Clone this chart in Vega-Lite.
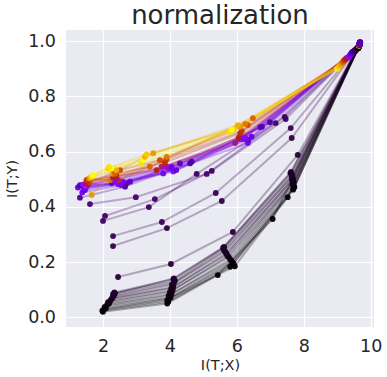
{
"$schema": "https://vega.github.io/schema/vega-lite/v6.json",
"width": 308, "height": 297,
"autosize": "none",
"padding": {"left": 66, "top": 30, "right": 13, "bottom": 50},
"background": "white",
"title": {"text": "normalization", "fontSize": 26, "font": "DejaVu Sans", "fontWeight": "normal", "color": "#262626", "offset": 1, "anchor": "middle"},
"config": {
  "view": {"fill": "#EAEAF2", "stroke": null},
  "axis": {"domain": false, "ticks": false, "grid": true, "gridColor": "white", "gridWidth": 1.2, "labelFont": "DejaVu Sans", "labelFontSize": 17.5, "labelColor": "#262626", "titleFont": "DejaVu Sans", "titleFontSize": 14.5, "titleFontWeight": "normal", "titleColor": "#262626"}
},
"data": {"values": [
{"e":0,"c":0,"l":1,"x":9.66,"y":0.986},{"e":0,"c":0,"l":2,"x":9.55,"y":0.965},{"e":0,"c":0,"l":3,"x":7.07,"y":0.356},{"e":0,"c":0,"l":4,"x":5.43,"y":0.153},{"e":0,"c":0,"l":5,"x":3.92,"y":0.050},{"e":0,"c":0,"l":6,"x":2.00,"y":0.020},
{"e":1,"c":0.002,"l":1,"x":9.67,"y":0.987},{"e":1,"c":0.002,"l":2,"x":9.60,"y":0.972},{"e":1,"c":0.002,"l":3,"x":7.52,"y":0.435},{"e":1,"c":0.002,"l":4,"x":5.80,"y":0.183},{"e":1,"c":0.002,"l":5,"x":3.95,"y":0.056},{"e":1,"c":0.002,"l":6,"x":1.98,"y":0.024},
{"e":2,"c":0.004,"l":1,"x":9.66,"y":0.988},{"e":2,"c":0.004,"l":2,"x":9.62,"y":0.975},{"e":2,"c":0.004,"l":3,"x":7.68,"y":0.462},{"e":2,"c":0.004,"l":4,"x":5.94,"y":0.185},{"e":2,"c":0.004,"l":5,"x":3.92,"y":0.062},{"e":2,"c":0.004,"l":6,"x":2.02,"y":0.028},
{"e":3,"c":0.006,"l":1,"x":9.67,"y":0.987},{"e":3,"c":0.006,"l":2,"x":9.63,"y":0.976},{"e":3,"c":0.006,"l":3,"x":7.70,"y":0.468},{"e":3,"c":0.006,"l":4,"x":5.90,"y":0.195},{"e":3,"c":0.006,"l":5,"x":3.98,"y":0.068},{"e":3,"c":0.006,"l":6,"x":2.08,"y":0.032},
{"e":4,"c":0.008,"l":1,"x":9.66,"y":0.987},{"e":4,"c":0.008,"l":2,"x":9.62,"y":0.974},{"e":4,"c":0.008,"l":3,"x":7.72,"y":0.472},{"e":4,"c":0.008,"l":4,"x":5.86,"y":0.200},{"e":4,"c":0.008,"l":5,"x":4.02,"y":0.072},{"e":4,"c":0.008,"l":6,"x":2.05,"y":0.038},
{"e":5,"c":0.010,"l":1,"x":9.67,"y":0.988},{"e":5,"c":0.010,"l":2,"x":9.64,"y":0.977},{"e":5,"c":0.010,"l":3,"x":7.69,"y":0.478},{"e":5,"c":0.010,"l":4,"x":5.84,"y":0.205},{"e":5,"c":0.010,"l":5,"x":3.96,"y":0.078},{"e":5,"c":0.010,"l":6,"x":2.12,"y":0.045},
{"e":6,"c":0.012,"l":1,"x":9.66,"y":0.987},{"e":6,"c":0.012,"l":2,"x":9.63,"y":0.975},{"e":6,"c":0.012,"l":3,"x":7.66,"y":0.482},{"e":6,"c":0.012,"l":4,"x":5.80,"y":0.210},{"e":6,"c":0.012,"l":5,"x":4.05,"y":0.085},{"e":6,"c":0.012,"l":6,"x":2.18,"y":0.050},
{"e":7,"c":0.014,"l":1,"x":9.67,"y":0.988},{"e":7,"c":0.014,"l":2,"x":9.62,"y":0.976},{"e":7,"c":0.014,"l":3,"x":7.70,"y":0.488},{"e":7,"c":0.014,"l":4,"x":5.76,"y":0.218},{"e":7,"c":0.014,"l":5,"x":4.00,"y":0.092},{"e":7,"c":0.014,"l":6,"x":2.15,"y":0.055},
{"e":8,"c":0.016,"l":1,"x":9.67,"y":0.987},{"e":8,"c":0.016,"l":2,"x":9.64,"y":0.978},{"e":8,"c":0.016,"l":3,"x":7.67,"y":0.492},{"e":8,"c":0.016,"l":4,"x":5.72,"y":0.222},{"e":8,"c":0.016,"l":5,"x":4.08,"y":0.098},{"e":8,"c":0.016,"l":6,"x":2.22,"y":0.060},
{"e":9,"c":0.018,"l":1,"x":9.67,"y":0.988},{"e":9,"c":0.018,"l":2,"x":9.63,"y":0.976},{"e":9,"c":0.018,"l":3,"x":7.65,"y":0.498},{"e":9,"c":0.018,"l":4,"x":5.70,"y":0.228},{"e":9,"c":0.018,"l":5,"x":4.04,"y":0.105},{"e":9,"c":0.018,"l":6,"x":2.25,"y":0.066},
{"e":10,"c":0.020,"l":1,"x":9.66,"y":0.988},{"e":10,"c":0.020,"l":2,"x":9.62,"y":0.977},{"e":10,"c":0.020,"l":3,"x":7.68,"y":0.502},{"e":10,"c":0.020,"l":4,"x":5.68,"y":0.232},{"e":10,"c":0.020,"l":5,"x":4.10,"y":0.110},{"e":10,"c":0.020,"l":6,"x":2.28,"y":0.070},
{"e":11,"c":0.022,"l":1,"x":9.67,"y":0.987},{"e":11,"c":0.022,"l":2,"x":9.63,"y":0.975},{"e":11,"c":0.022,"l":3,"x":7.64,"y":0.508},{"e":11,"c":0.022,"l":4,"x":5.65,"y":0.238},{"e":11,"c":0.022,"l":5,"x":4.06,"y":0.118},{"e":11,"c":0.022,"l":6,"x":2.30,"y":0.075},
{"e":12,"c":0.024,"l":1,"x":9.67,"y":0.988},{"e":12,"c":0.024,"l":2,"x":9.64,"y":0.978},{"e":12,"c":0.024,"l":3,"x":7.66,"y":0.512},{"e":12,"c":0.024,"l":4,"x":5.62,"y":0.242},{"e":12,"c":0.024,"l":5,"x":4.12,"y":0.125},{"e":12,"c":0.024,"l":6,"x":2.33,"y":0.080},
{"e":13,"c":0.026,"l":1,"x":9.67,"y":0.987},{"e":13,"c":0.026,"l":2,"x":9.62,"y":0.976},{"e":13,"c":0.026,"l":3,"x":7.64,"y":0.518},{"e":13,"c":0.026,"l":4,"x":5.60,"y":0.248},{"e":13,"c":0.026,"l":5,"x":4.15,"y":0.132},{"e":13,"c":0.026,"l":6,"x":2.36,"y":0.087},
{"e":14,"c":0.028,"l":1,"x":9.66,"y":0.987},{"e":14,"c":0.028,"l":2,"x":9.63,"y":0.977},{"e":14,"c":0.028,"l":3,"x":7.62,"y":0.526},{"e":14,"c":0.028,"l":4,"x":5.59,"y":0.252},{"e":14,"c":0.028,"l":5,"x":4.12,"y":0.141},{"e":14,"c":0.028,"l":6,"x":2.30,"y":0.084},
{"e":15,"c":0.030,"l":1,"x":9.67,"y":0.988},{"e":15,"c":0.030,"l":2,"x":9.62,"y":0.975},{"e":15,"c":0.030,"l":3,"x":7.60,"y":0.522},{"e":15,"c":0.030,"l":4,"x":5.62,"y":0.255},{"e":15,"c":0.030,"l":5,"x":4.10,"y":0.138},{"e":15,"c":0.030,"l":6,"x":2.34,"y":0.090},
{"e":16,"c":0.035,"l":1,"x":9.67,"y":0.989},{"e":16,"c":0.035,"l":2,"x":9.60,"y":0.974},{"e":16,"c":0.035,"l":3,"x":7.82,"y":0.588},{"e":16,"c":0.035,"l":4,"x":5.88,"y":0.309},{"e":16,"c":0.035,"l":5,"x":4.03,"y":0.193},{"e":16,"c":0.035,"l":6,"x":2.45,"y":0.146},
{"e":17,"c":0.045,"l":1,"x":9.67,"y":0.990},{"e":17,"c":0.045,"l":2,"x":9.58,"y":0.972},{"e":17,"c":0.045,"l":3,"x":7.64,"y":0.649},{"e":17,"c":0.045,"l":4,"x":5.55,"y":0.421},{"e":17,"c":0.045,"l":5,"x":3.91,"y":0.323},{"e":17,"c":0.045,"l":6,"x":2.30,"y":0.258},
{"e":18,"c":0.052,"l":1,"x":9.68,"y":0.991},{"e":18,"c":0.052,"l":2,"x":9.56,"y":0.970},{"e":18,"c":0.052,"l":3,"x":7.61,"y":0.685},{"e":18,"c":0.052,"l":4,"x":5.37,"y":0.450},{"e":18,"c":0.052,"l":5,"x":3.76,"y":0.345},{"e":18,"c":0.052,"l":6,"x":2.30,"y":0.294},
{"e":19,"c":0.060,"l":1,"x":9.67,"y":0.992},{"e":19,"c":0.060,"l":2,"x":9.54,"y":0.968},{"e":19,"c":0.060,"l":3,"x":7.43,"y":0.725},{"e":19,"c":0.060,"l":4,"x":4.80,"y":0.519},{"e":19,"c":0.060,"l":5,"x":3.37,"y":0.399},{"e":19,"c":0.060,"l":6,"x":2.00,"y":0.349},
{"e":20,"c":0.068,"l":1,"x":9.68,"y":0.993},{"e":20,"c":0.068,"l":2,"x":9.52,"y":0.966},{"e":20,"c":0.068,"l":3,"x":7.46,"y":0.718},{"e":20,"c":0.068,"l":4,"x":5.25,"y":0.530},{"e":20,"c":0.068,"l":5,"x":3.55,"y":0.428},{"e":20,"c":0.068,"l":6,"x":2.06,"y":0.367},
{"e":21,"c":0.078,"l":1,"x":9.68,"y":0.994},{"e":21,"c":0.078,"l":2,"x":9.50,"y":0.964},{"e":21,"c":0.078,"l":3,"x":7.16,"y":0.703},{"e":21,"c":0.078,"l":4,"x":5.10,"y":0.519},{"e":21,"c":0.078,"l":5,"x":2.98,"y":0.435},{"e":21,"c":0.078,"l":6,"x":1.61,"y":0.410},
{"e":22,"c":0.10,"l":1,"x":9.68,"y":0.996},{"e":22,"c":0.10,"l":2,"x":9.45,"y":0.960},{"e":22,"c":0.10,"l":3,"x":6.99,"y":0.706},{"e":22,"c":0.10,"l":4,"x":4.65,"y":0.563},{"e":22,"c":0.10,"l":5,"x":2.66,"y":0.473},{"e":22,"c":0.10,"l":6,"x":1.31,"y":0.433},
{"e":23,"c":0.12,"l":1,"x":9.69,"y":0.996},{"e":23,"c":0.12,"l":2,"x":9.45,"y":0.960},{"e":23,"c":0.12,"l":3,"x":6.75,"y":0.690},{"e":23,"c":0.12,"l":4,"x":4.60,"y":0.557},{"e":23,"c":0.12,"l":5,"x":2.71,"y":0.485},{"e":23,"c":0.12,"l":6,"x":1.31,"y":0.478},
{"e":24,"c":0.14,"l":1,"x":9.68,"y":0.995},{"e":24,"c":0.14,"l":2,"x":9.44,"y":0.958},{"e":24,"c":0.14,"l":3,"x":6.70,"y":0.688},{"e":24,"c":0.14,"l":4,"x":4.30,"y":0.557},{"e":24,"c":0.14,"l":5,"x":2.81,"y":0.491},{"e":24,"c":0.14,"l":6,"x":1.46,"y":0.461},
{"e":25,"c":0.16,"l":1,"x":9.67,"y":0.995},{"e":25,"c":0.16,"l":2,"x":9.43,"y":0.956},{"e":25,"c":0.16,"l":3,"x":6.44,"y":0.654},{"e":25,"c":0.16,"l":4,"x":4.19,"y":0.533},{"e":25,"c":0.16,"l":5,"x":2.26,"y":0.485},{"e":25,"c":0.16,"l":6,"x":1.25,"y":0.470},
{"e":26,"c":0.18,"l":1,"x":9.68,"y":0.994},{"e":26,"c":0.18,"l":2,"x":9.42,"y":0.955},{"e":26,"c":0.18,"l":3,"x":6.34,"y":0.642},{"e":26,"c":0.18,"l":4,"x":4.05,"y":0.545},{"e":26,"c":0.18,"l":5,"x":2.55,"y":0.478},{"e":26,"c":0.18,"l":6,"x":1.38,"y":0.452},
{"e":27,"c":0.20,"l":1,"x":9.67,"y":0.994},{"e":27,"c":0.20,"l":2,"x":9.40,"y":0.952},{"e":27,"c":0.20,"l":3,"x":6.33,"y":0.631},{"e":27,"c":0.20,"l":4,"x":3.80,"y":0.521},{"e":27,"c":0.20,"l":5,"x":2.60,"y":0.490},{"e":27,"c":0.20,"l":6,"x":1.42,"y":0.465},
{"e":28,"c":0.23,"l":1,"x":9.67,"y":0.993},{"e":28,"c":0.23,"l":2,"x":9.40,"y":0.950},{"e":28,"c":0.23,"l":3,"x":6.20,"y":0.645},{"e":28,"c":0.23,"l":4,"x":4.10,"y":0.528},{"e":28,"c":0.23,"l":5,"x":2.45,"y":0.482},{"e":28,"c":0.23,"l":6,"x":1.45,"y":0.470},
{"e":29,"c":0.26,"l":1,"x":9.67,"y":0.992},{"e":29,"c":0.26,"l":2,"x":9.38,"y":0.948},{"e":29,"c":0.26,"l":3,"x":6.25,"y":0.650},{"e":29,"c":0.26,"l":4,"x":4.00,"y":0.538},{"e":29,"c":0.26,"l":5,"x":2.50,"y":0.490},{"e":29,"c":0.26,"l":6,"x":1.50,"y":0.472},
{"e":30,"c":0.30,"l":1,"x":9.67,"y":0.990},{"e":30,"c":0.30,"l":2,"x":9.36,"y":0.945},{"e":30,"c":0.30,"l":3,"x":6.15,"y":0.648},{"e":30,"c":0.30,"l":4,"x":3.95,"y":0.540},{"e":30,"c":0.30,"l":5,"x":2.35,"y":0.495},{"e":30,"c":0.30,"l":6,"x":1.40,"y":0.480},
{"e":31,"c":0.35,"l":1,"x":9.66,"y":0.989},{"e":31,"c":0.35,"l":2,"x":9.35,"y":0.943},{"e":31,"c":0.35,"l":3,"x":6.10,"y":0.645},{"e":31,"c":0.35,"l":4,"x":3.90,"y":0.545},{"e":31,"c":0.35,"l":5,"x":2.40,"y":0.500},{"e":31,"c":0.35,"l":6,"x":1.48,"y":0.476},
{"e":32,"c":0.42,"l":1,"x":9.67,"y":0.989},{"e":32,"c":0.42,"l":2,"x":9.30,"y":0.940},{"e":32,"c":0.42,"l":3,"x":5.95,"y":0.631},{"e":32,"c":0.42,"l":4,"x":3.75,"y":0.545},{"e":32,"c":0.42,"l":5,"x":2.30,"y":0.505},{"e":32,"c":0.42,"l":6,"x":1.55,"y":0.480},
{"e":33,"c":0.48,"l":1,"x":9.66,"y":0.988},{"e":33,"c":0.48,"l":2,"x":9.28,"y":0.938},{"e":33,"c":0.48,"l":3,"x":6.05,"y":0.650},{"e":33,"c":0.48,"l":4,"x":3.60,"y":0.533},{"e":33,"c":0.48,"l":5,"x":2.35,"y":0.510},{"e":33,"c":0.48,"l":6,"x":1.50,"y":0.490},
{"e":34,"c":0.54,"l":1,"x":9.67,"y":0.988},{"e":34,"c":0.54,"l":2,"x":9.25,"y":0.935},{"e":34,"c":0.54,"l":3,"x":6.10,"y":0.667},{"e":34,"c":0.54,"l":4,"x":3.85,"y":0.560},{"e":34,"c":0.54,"l":5,"x":2.40,"y":0.515},{"e":34,"c":0.54,"l":6,"x":1.55,"y":0.495},
{"e":35,"c":0.60,"l":1,"x":9.66,"y":0.987},{"e":35,"c":0.60,"l":2,"x":9.22,"y":0.932},{"e":35,"c":0.60,"l":3,"x":6.15,"y":0.675},{"e":35,"c":0.60,"l":4,"x":3.90,"y":0.572},{"e":35,"c":0.60,"l":5,"x":2.46,"y":0.497},{"e":35,"c":0.60,"l":6,"x":1.51,"y":0.497},
{"e":36,"c":0.66,"l":1,"x":9.66,"y":0.987},{"e":36,"c":0.66,"l":2,"x":9.20,"y":0.930},{"e":36,"c":0.66,"l":3,"x":6.33,"y":0.696},{"e":36,"c":0.66,"l":4,"x":3.70,"y":0.569},{"e":36,"c":0.66,"l":5,"x":2.51,"y":0.533},{"e":36,"c":0.66,"l":6,"x":1.60,"y":0.490},
{"e":37,"c":0.72,"l":1,"x":9.65,"y":0.986},{"e":37,"c":0.72,"l":2,"x":9.18,"y":0.925},{"e":37,"c":0.72,"l":3,"x":6.48,"y":0.721},{"e":37,"c":0.72,"l":4,"x":3.40,"y":0.545},{"e":37,"c":0.72,"l":5,"x":2.36,"y":0.521},{"e":37,"c":0.72,"l":6,"x":1.46,"y":0.479},
{"e":38,"c":0.78,"l":1,"x":9.66,"y":0.986},{"e":38,"c":0.78,"l":2,"x":9.15,"y":0.922},{"e":38,"c":0.78,"l":3,"x":6.25,"y":0.700},{"e":38,"c":0.78,"l":4,"x":3.90,"y":0.581},{"e":38,"c":0.78,"l":5,"x":2.21,"y":0.497},{"e":38,"c":0.78,"l":6,"x":1.58,"y":0.502},
{"e":39,"c":0.84,"l":1,"x":9.65,"y":0.985},{"e":39,"c":0.84,"l":2,"x":9.12,"y":0.918},{"e":39,"c":0.84,"l":3,"x":6.10,"y":0.690},{"e":39,"c":0.84,"l":4,"x":3.50,"y":0.594},{"e":39,"c":0.84,"l":5,"x":2.30,"y":0.520},{"e":39,"c":0.84,"l":6,"x":1.66,"y":0.443},
{"e":40,"c":0.88,"l":1,"x":9.66,"y":0.985},{"e":40,"c":0.88,"l":2,"x":9.08,"y":0.912},{"e":40,"c":0.88,"l":3,"x":6.03,"y":0.696},{"e":40,"c":0.88,"l":4,"x":3.25,"y":0.581},{"e":40,"c":0.88,"l":5,"x":2.40,"y":0.533},{"e":40,"c":0.88,"l":6,"x":1.62,"y":0.505},
{"e":41,"c":0.92,"l":1,"x":9.65,"y":0.985},{"e":41,"c":0.92,"l":2,"x":9.05,"y":0.908},{"e":41,"c":0.92,"l":3,"x":5.90,"y":0.680},{"e":41,"c":0.92,"l":4,"x":3.30,"y":0.590},{"e":41,"c":0.92,"l":5,"x":2.16,"y":0.539},{"e":41,"c":0.92,"l":6,"x":1.66,"y":0.509},
{"e":42,"c":0.96,"l":1,"x":9.66,"y":0.984},{"e":42,"c":0.96,"l":2,"x":9.02,"y":0.902},{"e":42,"c":0.96,"l":3,"x":5.80,"y":0.671},{"e":42,"c":0.96,"l":4,"x":3.15,"y":0.557},{"e":42,"c":0.96,"l":5,"x":2.18,"y":0.544},{"e":42,"c":0.96,"l":6,"x":1.67,"y":0.511},
{"e":43,"c":1.0,"l":1,"x":9.65,"y":0.984},{"e":43,"c":1.0,"l":2,"x":9.00,"y":0.900},{"e":43,"c":1.0,"l":3,"x":5.85,"y":0.680},{"e":43,"c":1.0,"l":4,"x":3.20,"y":0.570},{"e":43,"c":1.0,"l":5,"x":2.25,"y":0.540},{"e":43,"c":1.0,"l":6,"x":1.70,"y":0.515}
]},
"encoding": {
  "x": {"field": "x", "type": "quantitative", "scale": {"domain": [0.894, 10.099], "nice": false, "zero": false}, "axis": {"values": [2,4,6,8,10], "title": "I(T;X)", "labelPadding": 10, "titlePadding": 4}},
  "y": {"field": "y", "type": "quantitative", "scale": {"domain": [-0.035, 1.040], "nice": false, "zero": false}, "axis": {"values": [0,0.2,0.4,0.6,0.8,1.0], "format": ".1f", "title": "I(T;Y)", "labelPadding": 10.5, "titlePadding": 8}},
  "color": {"field": "c", "type": "quantitative", "legend": null, "scale": {"domain": [0,0.05,0.1,0.15,0.2,0.25,0.3,0.35,0.4,0.45,0.5,0.6,0.7,0.8,0.9,1.0], "range": ["#000000","#39004f","#510096","#6301ce","#7202f2","#8004ff","#8c07f2","#970bce","#a11096","#ab174f","#b42000","#c53700","#d55700","#e48300","#f2ba00","#ffff00"], "interpolate": "rgb"}}
},
"layer": [
  {"mark": {"type": "line", "strokeWidth": 2, "opacity": 0.3}, "encoding": {"detail": {"field": "e", "type": "nominal"}, "order": {"field": "l", "type": "quantitative"}}},
  {"mark": {"type": "point", "filled": true, "size": 34, "opacity": 0.95}, "encoding": {"order": {"field": "y", "type": "quantitative"}}}
]
}
